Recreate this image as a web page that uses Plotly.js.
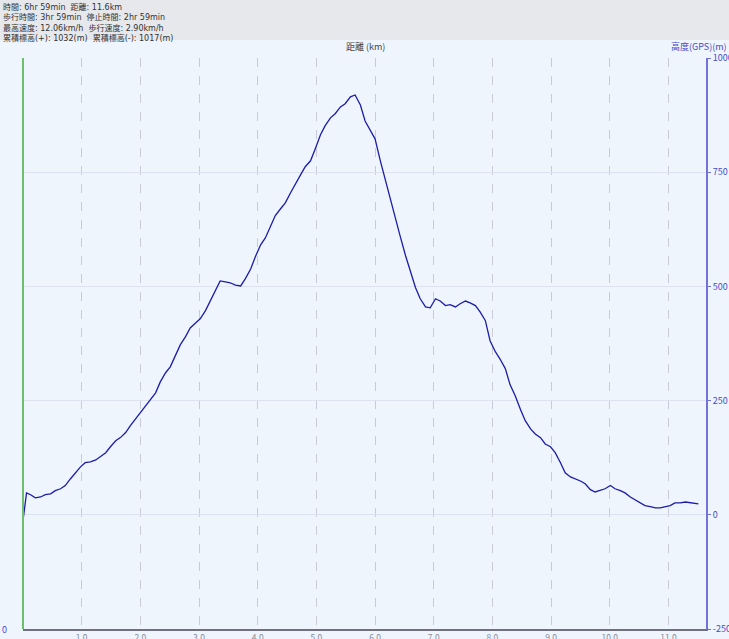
<!DOCTYPE html>
<html>
<head>
<meta charset="utf-8">
<script src="https://cdn.plot.ly/plotly-3.0.1.min.js"></script>
<style>
  html, body { margin: 0; padding: 0; background: #eef5fd; }
  #chart { width: 729px; height: 639px; }
</style>
</head>
<body>
<div id="chart"></div>
<script>
// ---- data ----
const distanceKm = [0.00,0.03,0.06,0.13,0.21,0.30,0.38,0.47,0.55,0.64,0.72,0.81,0.89,0.98,1.06,1.15,1.24,1.32,1.41,1.49,
  1.58,1.66,1.75,1.83,1.92,2.00,2.09,2.17,2.26,2.34,2.43,2.51,2.60,2.68,2.77,2.85,2.94,3.02,3.11,3.19,
  3.28,3.36,3.45,3.53,3.62,3.71,3.79,3.88,3.96,4.05,4.13,4.22,4.30,4.39,4.47,4.56,4.64,4.73,4.81,4.90,
  4.98,5.07,5.15,5.24,5.32,5.41,5.49,5.58,5.66,5.75,5.83,5.92,6.00,6.09,6.18,6.26,6.35,6.43,6.52,6.60,
  6.69,6.77,6.86,6.94,7.03,7.11,7.20,7.28,7.37,7.45,7.54,7.62,7.71,7.79,7.88,7.96,8.05,8.13,8.22,8.30,
  8.39,8.48,8.56,8.65,8.73,8.82,8.90,8.99,9.07,9.16,9.24,9.33,9.41,9.50,9.58,9.67,9.75,9.84,9.92,10.01,
  10.09,10.18,10.26,10.35,10.43,10.52,10.60,10.69,10.78,10.86,10.95,11.03,11.11,11.20,11.29,11.37,11.46,11.51];
const elevationM = [-13,20,48,44,37,39,44,46,53,57,64,79,92,105,114,116,120,127,136,149,
  162,169,180,195,210,223,236,250,267,291,311,324,348,372,390,409,420,429,447,468,
  488,512,510,508,503,501,517,538,565,591,606,630,655,670,683,705,725,744,762,775,
  801,832,852,869,878,893,900,915,919,897,862,841,823,775,731,687,644,609,567,534,
  497,473,455,453,473,468,458,460,455,462,468,464,458,444,425,381,357,341,320,285,
  260,230,206,188,177,169,155,149,136,114,92,83,79,74,68,55,50,53,57,64,
  57,53,48,39,33,26,20,18,15,15,18,20,26,26,28,26,24,24];
const xTickVals = [1,2,3,4,5,6,7,8,9,10,11];
const xTickText = ["1.0","2.0","3.0","4.0","5.0","6.0","7.0","8.0","9.0","10.0","11.0"];
const yTickVals = [-250,0,250,500,750,1000];
const yTickText = ["-250","0","250","500","750","1000"];
const headerLines = [
  "時間: 6hr 59min  距離: 11.6km",
  "歩行時間: 3hr 59min  停止時間: 2hr 59min",
  "最高速度: 12.06km/h  歩行速度: 2.90km/h",
  "累積標高(+): 1032(m)  累積標高(-): 1017(m)"
];

// ---- layout ----
const W = 729, H = 639;
const M = {l: 23, r: 23, t: 58, b: 10};
const PW = W - M.l - M.r, PH = H - M.t - M.b;
const px2x = p => (p - M.l) / PW;        // pixel -> paper x
const py2y = p => 1 - (p - M.t) / PH;    // pixel -> paper y
const FONT = '"Noto Sans CJK JP", "DejaVu Sans", sans-serif';
const HFONT = '"DejaVu Sans", "Noto Sans CJK JP", sans-serif';

const annotations = [{
  text: headerLines.join('<br>'), xref: 'paper', yref: 'paper',
  x: px2x(1), y: py2y(0), xanchor: 'left', yanchor: 'top', align: 'left',
  showarrow: false, font: {family: HFONT, size: 8, color: '#333333'}
}];
annotations.push({
  text: '距離 (km)', xref: 'paper', yref: 'paper', x: px2x(365), y: py2y(47),
  xanchor: 'center', yanchor: 'middle', showarrow: false,
  font: {family: FONT, size: 9, color: '#444444'}
});
annotations.push({
  text: '高度(GPS)(m)', xref: 'paper', yref: 'paper', x: px2x(729), y: py2y(47),
  xanchor: 'right', yanchor: 'middle', showarrow: false,
  font: {family: FONT, size: 9, color: '#4a4ac8'}
});
annotations.push({
  text: '0', xref: 'paper', yref: 'paper', x: px2x(0), y: py2y(629),
  xanchor: 'left', yanchor: 'middle', showarrow: false,
  font: {family: FONT, size: 9, color: '#4a4ac8'}
});

const shapes = [
  {type: 'rect', xref: 'paper', yref: 'paper', x0: px2x(0), x1: px2x(W), y0: py2y(40), y1: py2y(0),
   fillcolor: '#e6e8ec', line: {width: 0}, layer: 'below'},
  {type: 'line', xref: 'paper', yref: 'paper', x0: 0, x1: 0, y0: 0, y1: 1,
   line: {color: '#6cc06c', width: 2}}
];

const trace = {
  x: distanceKm, y: elevationM, type: 'scatter', mode: 'lines',
  line: {color: '#1c1ca8', width: 1.3}, hoverinfo: 'skip'
};

const layout = {
  width: W, height: H, margin: M,
  paper_bgcolor: '#eef5fd', plot_bgcolor: '#eef5fd',
  showlegend: false,
  font: {family: FONT},
  xaxis: {
    range: [0, 11.64], tickvals: xTickVals, ticktext: xTickText,
    showgrid: true, gridcolor: '#c9ccd8', griddash: 'dash', gridwidth: 1,
    zeroline: false, showline: true, linecolor: '#70707e', linewidth: 2,
    ticks: '', ticklabelstandoff: 0,
    tickfont: {family: FONT, size: 8.5, color: '#8a8a9a'}
  },
  yaxis: {
    range: [-250, 1000], side: 'right', tickvals: yTickVals, ticktext: yTickText,
    showgrid: true, gridcolor: '#dde2ee', gridwidth: 1, zeroline: false,
    showline: true, linecolor: '#7272d8', linewidth: 2,
    ticks: 'outside', ticklen: 3, tickcolor: '#7272d8',
    tickfont: {family: FONT, size: 9, color: '#4a4ac8'}
  },
  annotations: annotations,
  shapes: shapes
};

Plotly.newPlot('chart', [trace], layout, {staticPlot: true, displayModeBar: false});
</script>
</body>
</html>
